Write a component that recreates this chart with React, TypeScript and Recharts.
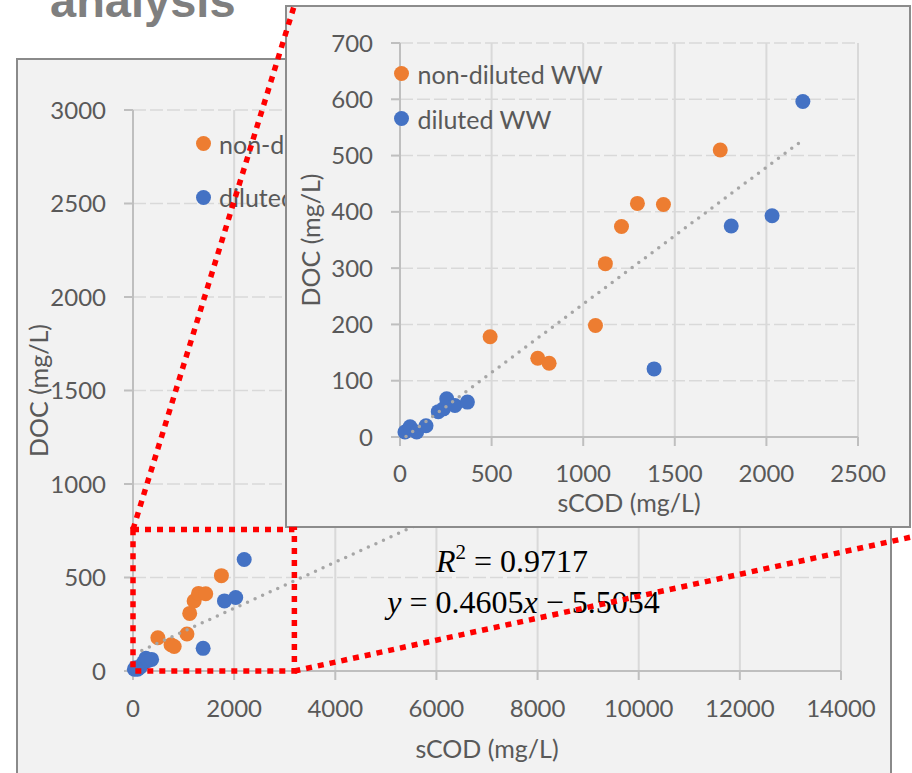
import React from 'react';
import {
  ScatterChart,
  Scatter,
  XAxis,
  YAxis,
  CartesianGrid,
  Legend,
  ReferenceArea,
  ReferenceLine,
} from 'recharts';

// ---------- data ----------
const seriesNames = ['non-diluted WW', 'diluted WW'];
const seriesColors = ['#ED7D31', '#4472C4'];

const nonDilutedSCOD = [492, 752, 814, 1067, 1121, 1209, 1296, 1438, 1748];
const nonDilutedDOC = [178, 140, 131, 198, 308, 374, 415, 413, 510];

const dilutedSCOD = [27, 55, 91, 142, 209, 237, 255, 300, 368, 1387, 1808, 2031, 2199];
const dilutedDOC = [9, 18, 9, 20, 45, 50, 68, 56, 62, 121, 375, 393, 596];

const trendInsetSCOD = [33, 2176];
const trendInsetDOC = [1, 522];
const trendMainSCOD = [174, 7000];
const trendMainDOC = [110, 952];

const mainXTicks = [0, 2000, 4000, 6000, 8000, 10000, 12000, 14000];
const mainYTicks = [0, 500, 1000, 1500, 2000, 2500, 3000];
const insetXTicks = [0, 500, 1000, 1500, 2000, 2500];
const insetYTicks = [0, 100, 200, 300, 400, 500, 600, 700];

const zoomBoxSCOD = [0, 3191];
const zoomBoxDOC = [0, 757];
const zoomLineTopSCOD = [0, 3192];
const zoomLineTopDOC = [757, 3561];
const zoomLineBottomSCOD = [3191, 15570];
const zoomLineBottomDOC = [0, 727];

const xTitle = 'sCOD (mg/L)';
const yTitle = 'DOC (mg/L)';
const eqR2 = '0.9717';
const eqLine = 'y = 0.4605x − 5.5054';

// ---------- helpers ----------
const toPoints = (xs: number[], ys: number[]) => xs.map((x, i) => ({ x, y: ys[i] }));
const nonDiluted = toPoints(nonDilutedSCOD, nonDilutedDOC);
const diluted = toPoints(dilutedSCOD, dilutedDOC);
const trendInset = toPoints(trendInsetSCOD, trendInsetDOC);
const trendMain = toPoints(trendMainSCOD, trendMainDOC);

const FONT = 'Lato, "Open Sans", sans-serif';
const TEXT = '#595959';
const AXIS = '#bfbfbf';
const GRID = '#d9d9d9';
const RED = '#ff0000';

const dot = (color: string) => (props: any) =>
  props.cx == null ? <g /> : <circle cx={props.cx} cy={props.cy} r={7.5} fill={color} />;
const noShape = () => <g />;

const tickStyle = { fill: TEXT, fontSize: 24, fontFamily: FONT };
const titleStyle: React.CSSProperties = { fill: TEXT, fontSize: 25, fontFamily: FONT };

const XTitle = (baseline: number) => (props: any) => {
  const vb = props.viewBox || {};
  return (
    <text x={vb.x + vb.width / 2} y={vb.y + baseline} textAnchor="middle" style={titleStyle}>
      {xTitle}
    </text>
  );
};

const YTitle = (fromPlot: number) => (props: any) => {
  const vb = props.viewBox || {};
  const bx = vb.x + vb.width + fromPlot;
  const cy = vb.y + vb.height / 2;
  return (
    <text
      x={bx}
      y={cy}
      transform={`rotate(-90 ${bx} ${cy})`}
      textAnchor="middle"
      style={titleStyle}
    >
      {yTitle}
    </text>
  );
};

const LegendBox = ({ rowH, gap }: { rowH: number; gap: number }) => (
  <div style={{ fontFamily: FONT, fontSize: 25, color: TEXT }}>
    {seriesNames.map((n, i) => (
      <div
        key={n}
        style={{ display: 'flex', alignItems: 'center', height: rowH, whiteSpace: 'nowrap' }}
      >
        <span
          style={{
            width: 15,
            height: 15,
            borderRadius: '50%',
            background: seriesColors[i],
            marginRight: gap,
            flex: 'none',
          }}
        />
        <span>{n}</span>
      </div>
    ))}
  </div>
);

const trendLineStyle = {
  stroke: '#a6a6a6',
  strokeWidth: 3.5,
  strokeDasharray: '0 8.3',
  strokeLinecap: 'round' as const,
};

const abs: React.CSSProperties = { position: 'absolute', left: 0, top: 0 };

export default function App() {
  return (
    <div
      style={{
        position: 'absolute',
        left: 0,
        top: 0,
        width: 912,
        height: 773,
        overflow: 'hidden',
        background: '#ffffff',
      }}
    >
      {/* slide title, partly cut */}
      <div
        style={{
          position: 'absolute',
          left: 50,
          top: -23,
          fontFamily: '"Liberation Sans", Arial, sans-serif',
          fontWeight: 'bold',
          fontSize: 47,
          lineHeight: '47px',
          color: '#7f7f7f',
        }}
      >
        analysis
      </div>

      {/* main chart panel */}
      <div
        style={{
          position: 'absolute',
          left: 16,
          top: 58,
          width: 876,
          height: 800,
          boxSizing: 'border-box',
          border: '2px solid #8a8a8a',
          background: '#f2f2f2',
        }}
      />

      <div style={abs}>
        <ScatterChart width={912} height={773} margin={{ top: 110, right: 71, bottom: 12, left: 53 }}>
          <CartesianGrid vertical={false} stroke={GRID} strokeWidth={1.5} strokeDasharray="13 4" />
          <CartesianGrid horizontal={false} stroke={GRID} strokeWidth={2} />
          <XAxis
            type="number"
            dataKey="x"
            domain={[0, 14000]}
            ticks={mainXTicks}
            interval={0}
            height={90}
            tickSize={9}
            tickMargin={20}
            tick={tickStyle}
            axisLine={{ stroke: AXIS, strokeWidth: 2 }}
            tickLine={{ stroke: AXIS, strokeWidth: 2 }}
            label={XTitle(87)}
          />
          <YAxis
            type="number"
            dataKey="y"
            domain={[0, 3000]}
            ticks={mainYTicks}
            interval={0}
            width={80}
            tickSize={9}
            tickMargin={18}
            tick={tickStyle}
            axisLine={{ stroke: AXIS, strokeWidth: 2 }}
            tickLine={{ stroke: AXIS, strokeWidth: 2 }}
            label={YTitle(-85)}
          />
          <Scatter name={seriesNames[0]} data={nonDiluted} shape={dot(seriesColors[0])} isAnimationActive={false} />
          <Scatter name={seriesNames[1]} data={diluted} shape={dot(seriesColors[1])} isAnimationActive={false} />
          <Scatter
            name="trend"
            data={trendMain}
            line={trendLineStyle}
            shape={noShape}
            legendType="none"
            isAnimationActive={false}
          />
          <Legend
            layout="vertical"
            align="center"
            verticalAlign="middle"
            wrapperStyle={{ left: 196, top: 117, width: 400, height: 110 }}
            content={() => <LegendBox rowH={53.6} gap={8} />}
          />
        </ScatterChart>
      </div>

      {/* regression annotation */}
      <svg width={912} height={773} style={abs}>
        <text
          x={512}
          y={571.5}
          textAnchor="middle"
          fontFamily='"Liberation Serif", "DejaVu Serif", serif'
          fontSize={32}
          fill="#000"
        >
          <tspan fontStyle="italic">R</tspan>
          <tspan dy={-13} fontSize={21}>2</tspan>
          <tspan dy={13}>{' = ' + eqR2}</tspan>
        </text>
        <text
          x={523.5}
          y={612.5}
          textAnchor="middle"
          fontFamily='"Liberation Serif", "DejaVu Serif", serif'
          fontSize={32}
          fill="#000"
        >
          <tspan fontStyle="italic">{eqLine.slice(0, 1)}</tspan>
          <tspan>{eqLine.slice(1, 10)}</tspan>
          <tspan fontStyle="italic">{eqLine.slice(10, 11)}</tspan>
          <tspan>{eqLine.slice(11)}</tspan>
        </text>
      </svg>

      {/* inset panel */}
      <div
        style={{
          position: 'absolute',
          left: 285,
          top: 5,
          width: 626,
          height: 523,
          boxSizing: 'border-box',
          border: '2px solid #8c8c8c',
          background: '#f2f2f2',
        }}
      />

      <div style={abs}>
        <ScatterChart width={912} height={773} margin={{ top: 43, right: 54, bottom: 256, left: 320 }}>
          <CartesianGrid vertical={false} stroke={GRID} strokeWidth={1.5} strokeDasharray="13 4" />
          <CartesianGrid horizontal={false} stroke={GRID} strokeWidth={2} />
          <XAxis
            type="number"
            dataKey="x"
            domain={[0, 2500]}
            ticks={insetXTicks}
            interval={0}
            height={80}
            tickSize={9}
            tickMargin={19}
            tick={tickStyle}
            axisLine={{ stroke: AXIS, strokeWidth: 2 }}
            tickLine={{ stroke: AXIS, strokeWidth: 2 }}
            label={XTitle(75)}
          />
          <YAxis
            type="number"
            dataKey="y"
            domain={[0, 700]}
            ticks={insetYTicks}
            interval={0}
            width={80}
            tickSize={9}
            tickMargin={18}
            tick={tickStyle}
            axisLine={{ stroke: AXIS, strokeWidth: 2 }}
            tickLine={{ stroke: AXIS, strokeWidth: 2 }}
            label={YTitle(-80)}
          />
          <Scatter name={seriesNames[0]} data={nonDiluted} shape={dot(seriesColors[0])} isAnimationActive={false} />
          <Scatter name={seriesNames[1]} data={diluted} shape={dot(seriesColors[1])} isAnimationActive={false} />
          <Scatter
            name="trend"
            data={trendInset}
            line={trendLineStyle}
            shape={noShape}
            legendType="none"
            isAnimationActive={false}
          />
          <Legend
            layout="vertical"
            align="center"
            verticalAlign="middle"
            wrapperStyle={{ left: 394, top: 51, width: 400, height: 90 }}
            content={() => <LegendBox rowH={45} gap={8.5} />}
          />
        </ScatterChart>
      </div>

      {/* zoom callout drawn in the main chart's data space */}
      <div style={abs}>
        <ScatterChart width={912} height={773} margin={{ top: 110, right: 71, bottom: 102, left: 133 }}>
          <XAxis type="number" dataKey="x" domain={[0, 14000]} hide />
          <YAxis type="number" dataKey="y" domain={[0, 3000]} hide />
          <Scatter data={[{ x: 0, y: 0 }]} shape={noShape} isAnimationActive={false} />
          <ReferenceArea
            x1={zoomBoxSCOD[0]}
            x2={zoomBoxSCOD[1]}
            y1={zoomBoxDOC[0]}
            y2={zoomBoxDOC[1]}
            fill="none"
            fillOpacity={0}
            stroke={RED}
            strokeWidth={5.5}
            strokeDasharray="6 6"
            ifOverflow="visible"
          />
          <ReferenceLine
            segment={[
              { x: zoomLineTopSCOD[0], y: zoomLineTopDOC[0] },
              { x: zoomLineTopSCOD[1], y: zoomLineTopDOC[1] },
            ]}
            stroke={RED}
            strokeWidth={5.5}
            strokeDasharray="6 6"
            ifOverflow="visible"
          />
          <ReferenceLine
            segment={[
              { x: zoomLineBottomSCOD[0], y: zoomLineBottomDOC[0] },
              { x: zoomLineBottomSCOD[1], y: zoomLineBottomDOC[1] },
            ]}
            stroke={RED}
            strokeWidth={5.5}
            strokeDasharray="6 6"
            ifOverflow="visible"
          />
        </ScatterChart>
      </div>
    </div>
  );
}
